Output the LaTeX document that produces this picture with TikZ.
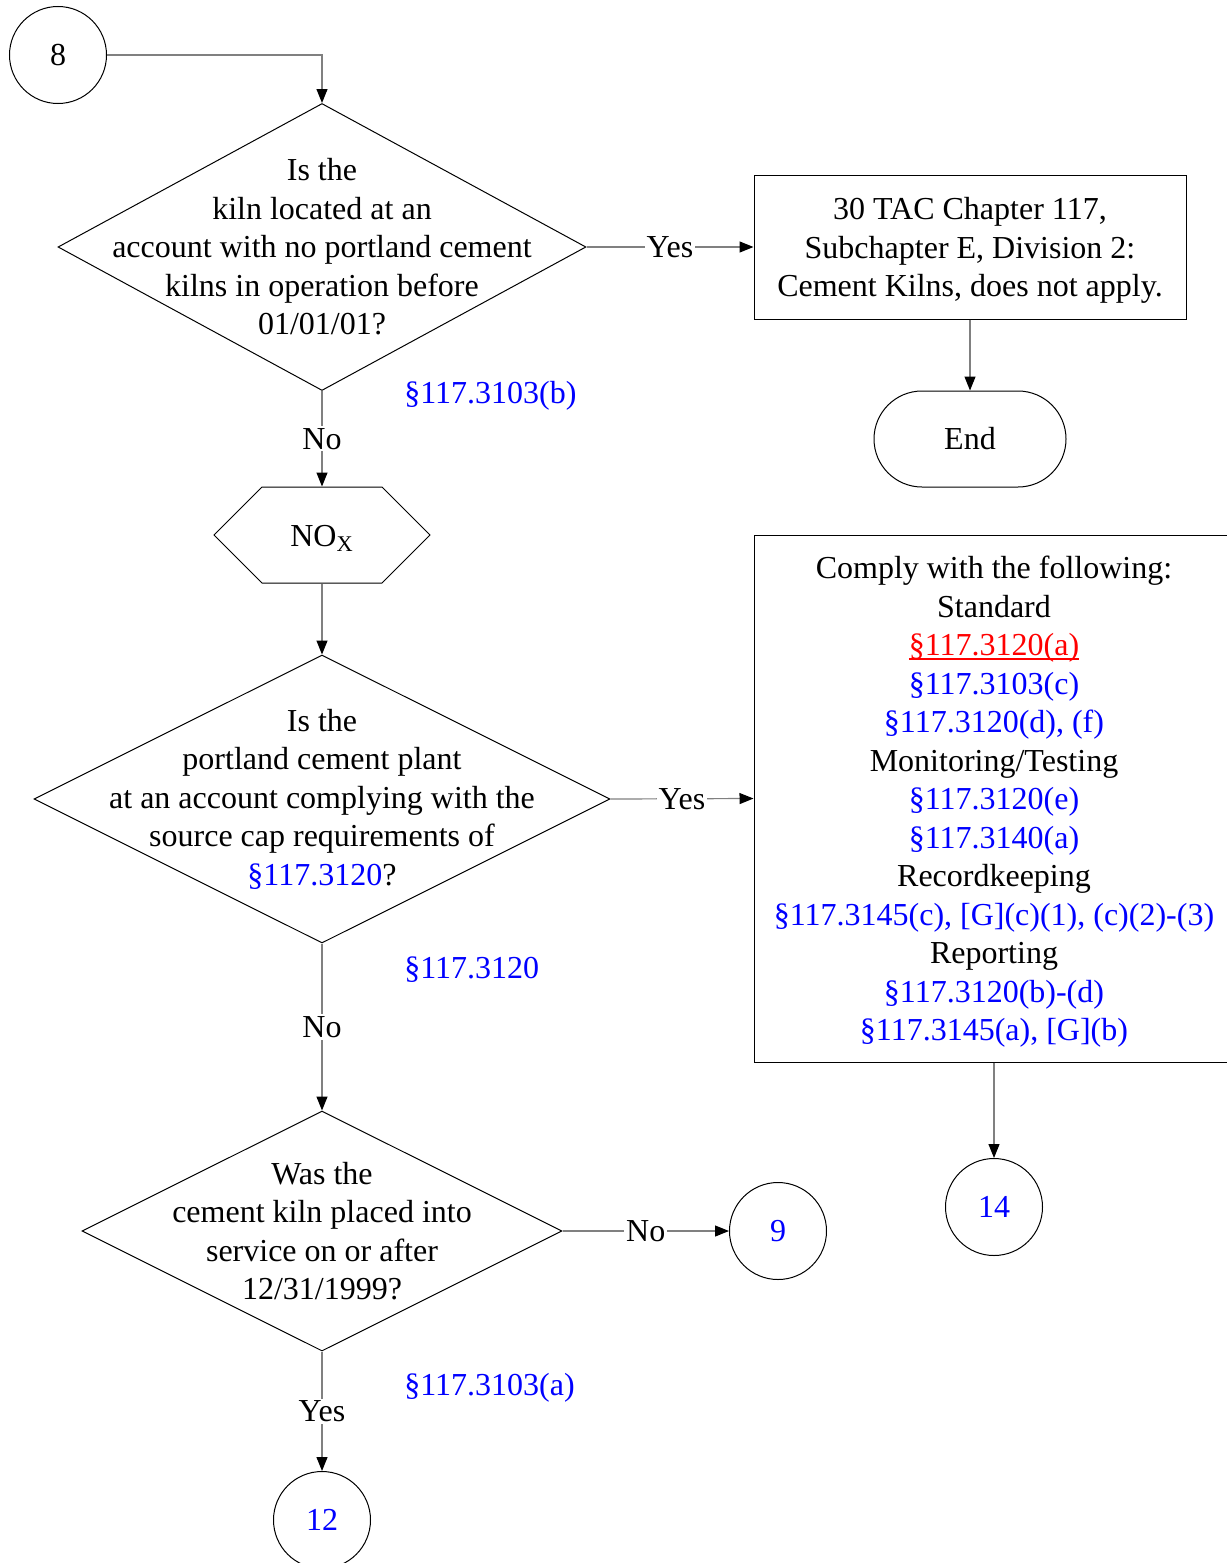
\documentclass[tikz,border=0pt]{standalone}
\usepackage{fontspec}
\setmainfont{Liberation Serif}
\usepackage{tikz}
\usetikzlibrary{shapes.geometric}
\usetikzlibrary{shapes.misc}
\usetikzlibrary{shapes.symbols}
\usetikzlibrary{arrows.meta}

\newcommand{\redlink}[1]{\setbox0\hbox{#1}\rlap{\rule[-2pt]{\wd0}{0.6pt}}\box0}

\begin{document}
\begin{tikzpicture}[x=0.5pt,y=-0.5pt,
  every node/.style={font=\fontsize{16}{19.25}\selectfont},
  shp/.style={draw=black,line width=0.5pt,align=center,inner sep=0pt},
  decision/.style={shp,diamond,inner xsep=-40pt,inner ysep=-20pt},
  proc/.style={shp,rectangle},
  conn/.style={shp,circle,minimum size=48.5pt},
  link/.style={draw=gray,line width=0.6pt,-{Triangle[length=7pt,width=5.5pt,color=black]}},
  lbl/.style={fill=white,inner sep=1pt},
  refs/.style={text=blue,anchor=west,inner sep=0pt}]

\useasboundingbox (0,0) rectangle (1226,1563);

% first question
\node[conn] (c8) at (58,55) {8};
\node[decision,shape aspect=1.84,minimum width=264pt,minimum height=143.5pt] (q1) at (322,247)
  {Is the\\kiln located at an\\account with no portland cement\\kilns in operation before\\01/01/01?};
\node[proc,minimum width=216pt,minimum height=72pt] (res1) at (970,247)
  {\rule{0pt}{14.5pt}30 TAC Chapter 117,\\Subchapter E, Division 2:\\Cement Kilns, does not apply.};
\node[shp,rounded rectangle,minimum width=96pt,minimum height=48pt] (endn) at (970,439) {End};
\node[refs] at (404,396) {§117.3103(b)};

\draw[link] (c8.east) -| (q1.north);
\draw[link] (q1.east) -- node[lbl] {Yes} (res1.west);
\draw[link] (res1.south) -- (endn.north);

% NOx
\node[shp,signal,signal to=east and west,signal pointer angle=90,minimum width=108pt,minimum height=48pt] (nox) at (322,535) {\rule{0pt}{14pt}NO\textsubscript{X}};
\draw[link] (q1.south) -- node[lbl] {No} (nox.north);

% second question
\node[decision,shape aspect=2,minimum width=288pt,minimum height=144pt] (q2) at (322,799)
  {Is the\\portland cement plant\\at an account complying with the\\source cap requirements of\\{\color{blue}§117.3120}?};
\node[proc,minimum width=240pt,minimum height=263.5pt] (res2) at (994,798.5)
  {\rule{0pt}{14.5pt}Comply with the following:\\Standard\\
   {\color{red}\redlink{§117.3120(a)}}\\
   {\color{blue}§117.3103(c)}\\
   {\color{blue}§117.3120(d), (f)}\\
   Monitoring/Testing\\
   {\color{blue}§117.3120(e)}\\
   {\color{blue}§117.3140(a)}\\
   Recordkeeping\\
   {\color{blue}§117.3145(c), [G](c)(1), (c)(2)-(3)}\\
   Reporting\\
   {\color{blue}§117.3120(b)-(d)}\\
   {\color{blue}§117.3145(a), [G](b)}};
\node[conn,text=blue] (c14) at (994,1207) {14};
\node[refs] at (404,970) {§117.3120};

\draw[link] (nox.south) -- (q2.north);
\draw[link] (q2.east) -- node[lbl] {Yes} (res2.west);
\draw[link] (res2.south) -- (c14.north);

% third question
\node[decision,shape aspect=2,minimum width=240pt,minimum height=120pt] (q3) at (322,1231)
  {Was the\\cement kiln placed into\\service on or after\\12/31/1999?};
\node[conn,text=blue] (c9) at (778,1231) {9};
\node[conn,text=blue] (c12) at (322,1520) {12};
\node[refs] at (404,1388) {§117.3103(a)};

\draw[link] (q2.south) -- node[lbl] {No} (q3.north);
\draw[link] (q3.east) -- node[lbl] {No} (c9.west);
\draw[link] (q3.south) -- node[lbl] {Yes} (c12.north);

\end{tikzpicture}
\end{document}
